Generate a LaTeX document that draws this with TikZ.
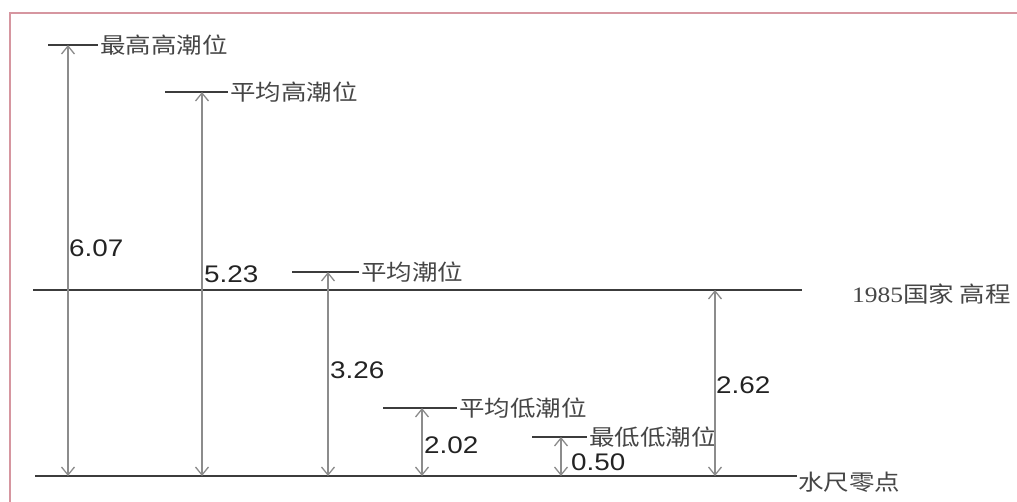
\documentclass[tikz,border=0pt]{standalone}
\usepackage{fontspec}
\usepackage{graphicx}
\usetikzlibrary{arrows.meta,positioning}
\newfontfamily\cjkfont{Noto Sans CJK SC}
\newfontfamily\numfont{Liberation Sans}
\newfontfamily\yearfont{Liberation Serif}
\definecolor{frame}{RGB}{214,150,160}
\definecolor{level}{RGB}{60,60,60}
\definecolor{span}{RGB}{140,140,140}
\definecolor{labeltext}{RGB}{70,70,70}
\definecolor{numtext}{RGB}{35,35,35}
\newcommand{\stretchx}[1]{\scalebox{1.16}[1]{#1}}
\tikzset{
    levelline/.style={level, line width=2.8pt},
    spanarrow/.style={span, line width=1.3pt,
        {Straight Barb[length=8pt,width=13pt]}-{Straight Barb[length=8pt,width=13pt]}},
    levellabel/.style={anchor=west, inner sep=1pt, text=labeltext,
        font=\cjkfont\fontsize{22}{26}\selectfont},
    valuelabel/.style={anchor=west, inner sep=1pt, text=numtext,
        font=\numfont\fontsize{24}{28}\selectfont}
}

\begin{document}
\begin{tikzpicture}[x=1pt, y=-1pt]
    % Frame
    \useasboundingbox (0,0) rectangle (1017,501);
    \path[clip] (0,0) rectangle (1017,501);
    \draw[frame, line width=1.6pt] (10,13) rectangle (1040,530);

    % Datum lines
    \coordinate (zero) at (797,476);
    \coordinate (datum) at (802,290);
    \draw[levelline] (35,476) -- (zero);
    \draw[levelline] (33,290) -- (datum);
    \node[levellabel, anchor=west] (zerolabel) at (797,482) {\stretchx{水尺零点}};
    \node[levellabel] (datumlabel) at (851,294)
        {\stretchx{{\yearfont\fontsize{22}{26}\selectfont 1985}国家 高程}};

    % Tide levels
    \coordinate (hhw) at (68,45);
    \draw[levelline] (48,45) -- (98,45) node[levellabel] (hhwlabel) {\stretchx{最高高潮位}};
    \coordinate (mhw) at (202,92);
    \draw[levelline] (165,92) -- (228,92) node[levellabel] (mhwlabel) {\stretchx{平均高潮位}};
    \coordinate (msl) at (328,272);
    \draw[levelline] (292,272) -- (359,272) node[levellabel] (msllabel) {\stretchx{平均潮位}};
    \coordinate (mlw) at (422,408);
    \draw[levelline] (383,408) -- (457,408) node[levellabel] (mlwlabel) {\stretchx{平均低潮位}};
    \coordinate (llw) at (561,437);
    \draw[levelline] (532,437) -- (587,437) node[levellabel] (llwlabel) {\stretchx{最低低潮位}};
    \coordinate (gauge) at (715,290);

    % Heights above gauge zero
    \draw[spanarrow] (hhw) -- (hhw |- zero);
    \draw[spanarrow] (mhw) -- (mhw |- zero);
    \draw[spanarrow] (msl) -- (msl |- zero);
    \draw[spanarrow] (mlw) -- (mlw |- zero);
    \draw[spanarrow] (llw) -- (llw |- zero);
    \draw[spanarrow] (gauge) -- (gauge |- zero);

    % Values
    \node[valuelabel] (hhwval) at (68,248) {\stretchx{6.07}};
    \node[valuelabel] (mhwval) at (203,274) {\stretchx{5.23}};
    \node[valuelabel] (mslval) at (329,370) {\stretchx{3.26}};
    \node[valuelabel] (mlwval) at (423,445) {\stretchx{2.02}};
    \node[valuelabel] (llwval) at (570,462) {\stretchx{0.50}};
    \node[valuelabel] (gaugeval) at (715,385) {\stretchx{2.62}};
\end{tikzpicture}
\end{document}
